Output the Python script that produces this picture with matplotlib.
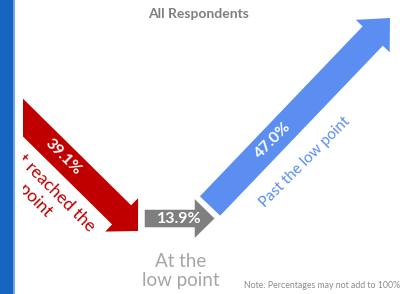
import matplotlib
matplotlib.use("Agg")
import matplotlib.pyplot as plt
from matplotlib.patches import FancyArrow, Rectangle

# ---- data ----
categories = ["Not yet reached the\nlow point", "At the\nlow point", "Past the low point"]
values = [39.1, 13.9, 47.0]
title = "All Respondents"
note = "Note: Percentages may not add to 100%"

# ---- styles / layout (pixel space, y downwards) ----
colors = ["#c00000", "#7f7f7f", "#5b8ef0"]
label_colors = ["#c00000", "#a6a6a6", "#5b8ef0"]
# arrow tail and tip positions (layout), shaft width, head width, head length
arrows = [
    dict(tail=(-5, 90), tip=(138, 231), w=27, hw=47, hl=23),
    dict(tail=(143, 218.5), tip=(217, 218.5), w=21, hw=47, hl=24),
    dict(tail=(210, 206), tip=(390, 18), w=28, hw=47, hl=25),
]
value_pos = [(63, 157, -45), (179, 219, 0), (273, 140, 45)]
value_size = [11.5, 11.5, 11.5]
cat_pos = [(31, 182, -45, 1.3), (181, 271, 0, 1.1), (305, 162, 45, 1.2)]
cat_size = [12.5, 13.5, 11]

FONT = "Lato"

fig = plt.figure(figsize=(4.0, 2.94), dpi=100)
ax = fig.add_axes([0, 0, 1, 1])
ax.set_xlim(0, 400)
ax.set_ylim(294, 0)
ax.axis("off")

# draw order: red, blue, then gray on top (white outline)
order = [0, 2, 1]
for i in order:
    a = arrows[i]
    (x0, y0), (x1, y1) = a["tail"], a["tip"]
    arr = FancyArrow(x0, y0, x1 - x0, y1 - y0, width=a["w"], head_width=a["hw"],
                     head_length=a["hl"], length_includes_head=True,
                     facecolor=colors[i], edgecolor="white" if i == 1 else "none",
                     linewidth=2.5 if i == 1 else 0, zorder=2 + (i == 1))
    ax.add_patch(arr)

for i, v in enumerate(values):
    x, y, rot = value_pos[i]
    ax.text(x, y, f"{v:.1f}%", color="white", fontsize=value_size[i], fontweight="bold",
            family=FONT, rotation=rot, ha="center", va="center", zorder=5)

for i, c in enumerate(categories):
    x, y, rot, ls = cat_pos[i]
    ax.text(x, y, c, color=label_colors[i], fontsize=cat_size[i],
            family=FONT, rotation=rot, ha="center", va="center",
            multialignment="center", linespacing=ls, zorder=5)

ax.text(199, 14, title, color="#7f7f7f", fontsize=10, fontweight="bold",
        family=FONT, ha="center", va="center")
ax.text(400, 286, note, color="#8c8c8c", fontsize=6.3, family=FONT,
        ha="right", va="center")

# left slide panel overlay
ax.add_patch(Rectangle((0, 0), 23, 294, facecolor="white", edgecolor="none", zorder=8))
ax.add_patch(Rectangle((0, 0), 14, 294, facecolor="#1565c0", edgecolor="none", zorder=9))
ax.add_patch(Rectangle((13, 0), 1.5, 294, facecolor="#6fa6dc", edgecolor="none", zorder=9))

fig.savefig("out.png", dpi=100)
